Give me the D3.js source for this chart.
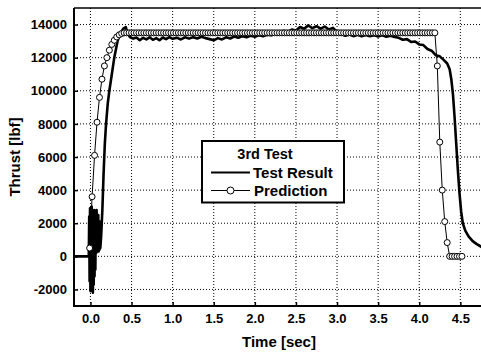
<!DOCTYPE html>
<html>
<head>
<meta charset="utf-8">
<script src="https://cdn.jsdelivr.net/npm/d3@7"></script>
<style>
  body { margin: 0; background: #fff; }
  svg { display: block; font-family: "Liberation Sans", Arial, sans-serif; font-weight: bold; }
</style>
</head>
<body>
<figure id="chart" style="margin:0"></figure>
<script>
// tick labels
const xTicks = [0.0, 0.5, 1.0, 1.5, 2.0, 2.5, 3.0, 3.5, 4.0, 4.5];
const yTicks = [-2000, 0, 2000, 4000, 6000, 8000, 10000, 12000, 14000];

// measured thrust (3rd test)
const testTime = [
  -0.20, -0.02, -0.015, -0.010, -0.005, 0.000, 0.005, 0.010, 0.015, 0.020,
  0.025, 0.030, 0.035, 0.040, 0.045, 0.050, 0.055, 0.060, 0.065, 0.070,
  0.075, 0.080, 0.085, 0.090, 0.095, 0.100, 0.105, 0.110, 0.115, 0.120,
  0.130, 0.145, 0.160, 0.175, 0.190, 0.210, 0.230, 0.260, 0.290, 0.330,
  0.360, 0.400, 0.430, 0.450, 0.480, 0.52, 0.56, 0.60, 0.64, 0.68,
  0.72, 0.76, 0.80, 0.84, 0.88, 0.92, 0.96, 1.00, 1.05, 1.10,
  1.15, 1.20, 1.25, 1.30, 1.35, 1.40, 1.45, 1.50, 1.55, 1.60,
  1.65, 1.70, 1.75, 1.80, 1.85, 1.90, 1.95, 2.00, 2.05, 2.10,
  2.15, 2.20, 2.25, 2.30, 2.35, 2.40, 2.45, 2.50, 2.55, 2.60,
  2.65, 2.70, 2.75, 2.80, 2.85, 2.90, 2.95, 3.00, 3.05, 3.10,
  3.15, 3.20, 3.25, 3.30, 3.35, 3.40, 3.45, 3.50, 3.55, 3.60,
  3.65, 3.70, 3.75, 3.80, 3.85, 3.90, 3.95, 4.00, 4.05, 4.10,
  4.15, 4.20, 4.25, 4.30, 4.34, 4.37, 4.39, 4.41, 4.43, 4.45,
  4.47, 4.49, 4.51, 4.53, 4.56, 4.60, 4.65, 4.70, 4.76, 4.80
];
const testThrust = [
  0, 0, 2400, -1500, 2900, -2100, 2600, -2000, 3000, -1900,
  2700, -2200, 2200, -1700, 2800, -1200, 2000, -800, 2600, 200,
  2800, 300, 2400, 500, 2500, 300, 1800, 400, 2100, 500,
  1200, 2800, 5000, 6800, 8000, 9200, 10000, 11000, 12000, 13000,
  13450, 13750, 13850, 13500, 13250, 13150, 13220, 13050, 13200, 13100,
  13230, 13080, 13180, 13050, 13220, 13120, 13240, 13140, 13210, 13100,
  13230, 13150, 13240, 13160, 13260, 13180, 13120, 13050, 13180, 13100,
  13230, 13160, 13280, 13200, 13300, 13230, 13330, 13260, 13350, 13290,
  13380, 13350, 13500, 13450, 13620, 13560, 13700, 13640, 13850, 13750,
  13950, 13780, 13900, 13750, 13880, 13700, 13800, 13550, 13420, 13320,
  13400, 13300, 13380, 13290, 13370, 13300, 13360, 13280, 13350, 13270,
  13320, 13250, 13200, 13080, 13120, 12950, 12980, 12800, 12760, 12520,
  12420, 12150, 12080, 11850, 11650, 11300, 10700, 9800, 8400, 6800,
  5200, 3800, 2700, 2000, 1550, 1200, 920, 740, 560, 460
];

// predicted thrust
const predTime = [
  -0.01, 0.02, 0.05, 0.08, 0.11, 0.14, 0.17, 0.20, 0.23, 0.26,
  0.29, 0.32, 0.35, 0.38, 0.41, 0.44, 0.47, 0.50, 0.53, 0.56,
  0.59, 0.62, 0.65, 0.68, 0.71, 0.74, 0.77, 0.80, 0.83, 0.86,
  0.89, 0.92, 0.95, 0.98, 1.01, 1.04, 1.07, 1.10, 1.13, 1.16,
  1.19, 1.22, 1.25, 1.28, 1.31, 1.34, 1.37, 1.40, 1.43, 1.46,
  1.49, 1.52, 1.55, 1.58, 1.61, 1.64, 1.67, 1.70, 1.73, 1.76,
  1.79, 1.82, 1.85, 1.88, 1.91, 1.94, 1.97, 2.00, 2.03, 2.06,
  2.09, 2.12, 2.15, 2.18, 2.21, 2.24, 2.27, 2.30, 2.33, 2.36,
  2.39, 2.42, 2.45, 2.48, 2.51, 2.54, 2.57, 2.60, 2.63, 2.66,
  2.69, 2.72, 2.75, 2.78, 2.81, 2.84, 2.87, 2.90, 2.93, 2.96,
  2.99, 3.02, 3.05, 3.08, 3.11, 3.14, 3.17, 3.20, 3.23, 3.26,
  3.29, 3.32, 3.35, 3.38, 3.41, 3.44, 3.47, 3.50, 3.53, 3.56,
  3.59, 3.62, 3.65, 3.68, 3.71, 3.74, 3.77, 3.80, 3.83, 3.86,
  3.89, 3.92, 3.95, 3.98, 4.01, 4.04, 4.07, 4.10, 4.13, 4.16,
  4.19, 4.22, 4.25, 4.28, 4.31, 4.34, 4.37, 4.40, 4.43, 4.46,
  4.49, 4.52
];
const predThrust = [
  500, 3600, 6100, 8100, 9600, 10700, 11500, 12000, 12450, 12800,
  13050, 13250, 13380, 13460, 13500, 13500, 13500, 13500, 13500, 13500,
  13500, 13500, 13500, 13500, 13500, 13500, 13500, 13500, 13500, 13500,
  13500, 13500, 13500, 13500, 13500, 13500, 13500, 13500, 13500, 13500,
  13500, 13500, 13500, 13500, 13500, 13500, 13500, 13500, 13500, 13500,
  13500, 13500, 13500, 13500, 13500, 13500, 13500, 13500, 13500, 13500,
  13500, 13500, 13500, 13500, 13500, 13500, 13500, 13500, 13500, 13500,
  13500, 13500, 13500, 13500, 13500, 13500, 13500, 13500, 13500, 13500,
  13500, 13500, 13500, 13500, 13500, 13500, 13500, 13500, 13500, 13500,
  13500, 13500, 13500, 13500, 13500, 13500, 13500, 13500, 13500, 13500,
  13500, 13500, 13500, 13500, 13500, 13500, 13500, 13500, 13500, 13500,
  13500, 13500, 13500, 13500, 13500, 13500, 13500, 13500, 13500, 13500,
  13500, 13500, 13500, 13500, 13500, 13500, 13500, 13500, 13500, 13500,
  13500, 13500, 13500, 13500, 13500, 13500, 13500, 13500, 13500, 13500,
  13500, 11500, 6900, 4000, 2100, 830, 0, 0, 0, 0,
  0, 0
];

const W = 481, H = 353;
const margin = { top: 8, left: 74, bottom: 47 };
const plotRight = 485;

const svg = d3.select("#chart").append("svg")
  .attr("width", W).attr("height", H);

const x = d3.scaleLinear().domain([-0.2, 4.8]).range([margin.left, plotRight]);
const y = d3.scaleLinear().domain([-3000, 15000]).range([H - margin.bottom, margin.top]);

// dotted grid
svg.append("g").selectAll("line.vg").data(xTicks).enter().append("line")
  .attr("x1", d => x(d)).attr("x2", d => x(d))
  .attr("y1", y(-3000)).attr("y2", y(15000))
  .attr("stroke", "#000").attr("stroke-width", 1).attr("stroke-dasharray", "1,2");
svg.append("g").selectAll("line.hg").data(yTicks).enter().append("line")
  .attr("x1", x(-0.2)).attr("x2", plotRight)
  .attr("y1", d => y(d)).attr("y2", d => y(d))
  .attr("stroke", "#000").attr("stroke-width", 1).attr("stroke-dasharray", "1,2");

// axes
const xAxis = svg.append("g")
  .attr("transform", "translate(0," + y(-3000) + ")")
  .call(d3.axisBottom(x).tickValues(xTicks).tickFormat(d3.format(".1f")).tickSizeInner(-4).tickSizeOuter(0).tickPadding(8));
const yAxis = svg.append("g")
  .attr("transform", "translate(" + x(-0.2) + ",0)")
  .call(d3.axisLeft(y).tickValues(yTicks).tickFormat(d => String(d)).tickSizeInner(-4).tickSizeOuter(0).tickPadding(7));
[xAxis, yAxis].forEach(a => {
  a.select(".domain").remove();
  a.selectAll(".tick line").attr("stroke", "#000").attr("stroke-width", 1.5);
  a.selectAll("text").attr("fill", "#000").style("font-size", "13px").style("font-weight", "bold")
    .style("font-family", "'Liberation Sans', Arial, sans-serif");
});

// test result line
const testData = testTime.map((t, i) => ({ t: t, v: testThrust[i] }));
svg.append("path")
  .datum(testData)
  .attr("fill", "none").attr("stroke", "#000").attr("stroke-width", 2.6)
  .attr("stroke-linejoin", "round")
  .attr("d", d3.line().x(d => x(d.t)).y(d => y(d.v)));

// prediction line + markers
const predData = predTime.map((t, i) => ({ t: t, v: predThrust[i] }));
svg.append("path")
  .datum(predData)
  .attr("fill", "none").attr("stroke", "#000").attr("stroke-width", 1)
  .attr("d", d3.line().x(d => x(d.t)).y(d => y(d.v)));
svg.append("g").selectAll("circle").data(predData).enter().append("circle")
  .attr("cx", d => x(d.t)).attr("cy", d => y(d.v)).attr("r", 3)
  .attr("fill", "#fff").attr("stroke", "#000").attr("stroke-width", 1);

// frame
svg.append("line").attr("x1", x(-0.2)).attr("x2", x(-0.2)).attr("y1", y(15000)).attr("y2", y(-3000))
  .attr("stroke", "#000").attr("stroke-width", 2);
svg.append("line").attr("x1", x(-0.2) - 1).attr("x2", plotRight).attr("y1", y(-3000)).attr("y2", y(-3000))
  .attr("stroke", "#000").attr("stroke-width", 2);
svg.append("line").attr("x1", x(-0.2)).attr("x2", plotRight).attr("y1", y(15000)).attr("y2", y(15000))
  .attr("stroke", "#000").attr("stroke-width", 1.5);

// axis titles
svg.append("text")
  .attr("x", 279).attr("y", 347)
  .attr("text-anchor", "middle").style("font-size", "15px")
  .text("Time [sec]");
svg.append("text")
  .attr("transform", "translate(20," + ((margin.top + H - margin.bottom) / 2) + ") rotate(-90)")
  .attr("text-anchor", "middle").style("font-size", "15px")
  .text("Thrust [lbf]");

// legend
const lg = svg.append("g");
lg.append("rect").attr("x", 202).attr("y", 141).attr("width", 142).attr("height", 61.5)
  .attr("fill", "#fff").attr("stroke", "#000").attr("stroke-width", 2);
lg.append("text").attr("x", 265).attr("y", 158.5).attr("text-anchor", "middle")
  .style("font-size", "14.5px").text("3rd Test");
lg.append("line").attr("x1", 211).attr("x2", 250).attr("y1", 172.5).attr("y2", 172.5)
  .attr("stroke", "#000").attr("stroke-width", 2);
lg.append("text").attr("x", 253).attr("y", 177.5).style("font-size", "15px").text("Test Result");
lg.append("line").attr("x1", 211).attr("x2", 250).attr("y1", 190.5).attr("y2", 190.5)
  .attr("stroke", "#000").attr("stroke-width", 1);
lg.append("circle").attr("cx", 230.5).attr("cy", 190.5).attr("r", 3.5)
  .attr("fill", "#fff").attr("stroke", "#000").attr("stroke-width", 1);
lg.append("text").attr("x", 254).attr("y", 195.5).style("font-size", "15px").text("Prediction");
</script>
</body>
</html>
